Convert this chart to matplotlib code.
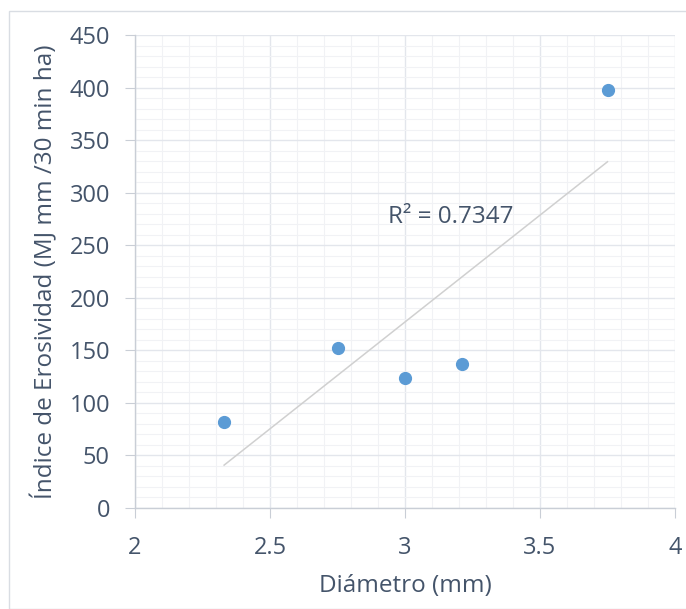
import numpy as np
import matplotlib
matplotlib.use("Agg")
import matplotlib.pyplot as plt
from matplotlib.ticker import MultipleLocator
from matplotlib.patches import Rectangle

diametro = [2.33, 2.75, 3.00, 3.21, 3.75]
erosividad = [82, 152, 124, 137, 398]
x_ticks = [2, 2.5, 3, 3.5, 4]
x_tick_labels = ["2", "2.5", "3", "3.5", "4"]
y_ticks = [0, 50, 100, 150, 200, 250, 300, 350, 400, 450]
r2_label = "R² = 0.7347"

plt.rcParams['font.family'] = ['Open Sans', 'DejaVu Sans']
txt = '#44546A'
fig = plt.figure(figsize=(6.86, 6.09), dpi=100)
fig.patches.append(Rectangle((9/686, 0), 1, 1 - 11/609, transform=fig.transFigure,
                             fill=False, edgecolor='#D9DDE3', linewidth=1))
ax = fig.add_axes([135/686, 1 - 508/609, 540/686, 473/609])

ax.set_xlim(2, 4)
ax.set_ylim(0, 450)
ax.set_xticks(x_ticks)
ax.set_xticklabels(x_tick_labels)
ax.set_yticks(y_ticks)
ax.xaxis.set_minor_locator(MultipleLocator(0.1))
ax.yaxis.set_minor_locator(MultipleLocator(10))
ax.grid(which='major', color='#E3E6EC', linewidth=1)
ax.grid(which='minor', color='#F1F2F5', linewidth=0.8)
ax.set_axisbelow(True)
for s in ['top', 'right']:
    ax.spines[s].set_visible(False)
for s in ['left', 'bottom']:
    ax.spines[s].set_color('#C9CED6')
    ax.spines[s].set_linewidth(1)
ax.tick_params(which='major', length=7, color='#C9CED6', labelsize=17, labelcolor=txt)
ax.tick_params(axis='y', pad=11)
ax.tick_params(axis='x', pad=13)
ax.tick_params(which='minor', length=0)

# trendline
coef = np.polyfit(diametro, erosividad, 1)
xs = np.array([min(diametro), max(diametro)])
ax.plot(xs, np.polyval(coef, xs), color='#D0D0D0', linewidth=1.1, zorder=2)

ax.plot(diametro, erosividad, 'o', color='#5B9BD5', markersize=8.5, zorder=3)

ax.text(2.937, 277, r2_label, fontsize=17.5, color=txt, va='center', ha='left')

ax.set_xlabel("Diámetro (mm)", fontsize=17.5, color=txt, labelpad=10)
ax.set_ylabel("Índice de Erosividad (MJ mm /30 min ha)", fontsize=17.5, color=txt, labelpad=8)

fig.savefig("out.png", dpi=100, facecolor='white')
